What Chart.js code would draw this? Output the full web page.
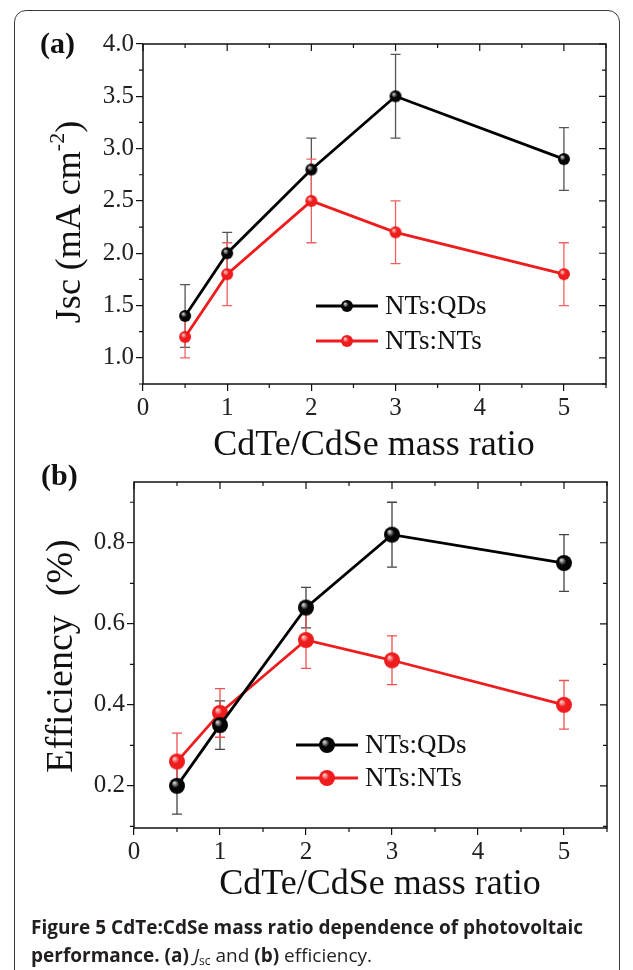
<!DOCTYPE html>
<html>
<head>
<meta charset="utf-8">
<script src="https://cdn.jsdelivr.net/npm/chart.js@4.4.1/dist/chart.umd.min.js"></script>
<style>
  body { margin: 0; background: #fff; width: 633px; height: 970px; overflow: hidden; position: relative; }
  #frame { position: absolute; left: 14px; top: 10px; width: 606px; height: 990px;
           border: 1.5px solid #3a3a3a; border-radius: 12px; box-sizing: border-box; }
  canvas { position: absolute; left: 0; }
  #c1 { top: 0; }
  #c2 { top: 440px; }
  #cap { position: absolute; left: 31px; top: 913px; font-family: "Open Sans"; font-size: 19px;
         line-height: 28px; color: #231f20; white-space: nowrap; }
  #cap b { font-weight: 700; }
  #cap sub { font-size: 12px; vertical-align: -3px; }
</style>
</head>
<body>
<div id="frame"></div>
<canvas id="c1" width="633" height="470"></canvas>
<canvas id="c2" width="633" height="470"></canvas>
<div id="cap"><b>Figure 5 CdTe:CdSe mass ratio dependence of photovoltaic</b><br><b>performance.</b> <b>(a)</b> <i>J</i><sub>sc</sub> and <b>(b)</b> efficiency.</div>
<script>
// CdTe/CdSe mass ratio
const massRatio = [0.5, 1, 2, 3, 5];

// (a) Jsc, mA cm-2
const jscQDs = [1.4, 2.0, 2.8, 3.5, 2.9];
const jscQDsErr = [0.3, 0.2, 0.3, 0.4, 0.3];
const jscNTs = [1.2, 1.8, 2.5, 2.2, 1.8];
const jscNTsErr = [0.2, 0.3, 0.4, 0.3, 0.3];

// (b) efficiency, %
const effQDs = [0.20, 0.35, 0.64, 0.82, 0.75];
const effQDsErr = [0.07, 0.06, 0.05, 0.08, 0.07];
const effNTs = [0.26, 0.38, 0.56, 0.51, 0.40];
const effNTsErr = [0.07, 0.06, 0.07, 0.06, 0.06];

// tick labels
const ratioTicks = [0, 1, 2, 3, 4, 5];
const jscTicks = [1.0, 1.5, 2.0, 2.5, 3.0, 3.5, 4.0];
const effTicks = [0.2, 0.4, 0.6, 0.8];

const SERIF = "'Liberation Serif', 'Times New Roman', serif";
const RED = '#ee1c1c';

function sphere(r, base, hi) {
  const c = document.createElement('canvas');
  c.width = c.height = 2 * r + 2;
  const g = c.getContext('2d');
  const m = r + 1;
  const grad = g.createRadialGradient(m - r * 0.35, m - r * 0.4, r * 0.05, m, m, r);
  grad.addColorStop(0, hi);
  grad.addColorStop(0.45, base);
  grad.addColorStop(1, base);
  g.fillStyle = grad;
  g.beginPath();
  g.arc(m, m, r, 0, Math.PI * 2);
  g.fill();
  return c;
}

const decor = {
  id: 'decor',
  beforeDatasetsDraw(chart, args, o) {
    const ctx = chart.ctx, xs = chart.scales.x, ys = chart.scales.y;
    o.errors.forEach((errs, di) => {
      ctx.save();
      ctx.strokeStyle = o.errColors[di];
      ctx.lineWidth = 1.3;
      chart.data.datasets[di].data.forEach((p, i) => {
        const px = xs.getPixelForValue(p.x);
        const yt = ys.getPixelForValue(p.y + errs[i]);
        const yb = ys.getPixelForValue(p.y - errs[i]);
        ctx.beginPath();
        ctx.moveTo(px, yt); ctx.lineTo(px, yb);
        ctx.moveTo(px - o.cap, yt); ctx.lineTo(px + o.cap, yt);
        ctx.moveTo(px - o.cap, yb); ctx.lineTo(px + o.cap, yb);
        ctx.stroke();
      });
      ctx.restore();
    });
  },
  afterDraw(chart, args, o) {
    const ctx = chart.ctx, a = chart.chartArea, xs = chart.scales.x, ys = chart.scales.y;
    ctx.save();
    ctx.strokeStyle = '#111';
    ctx.lineWidth = 1.5;
    ctx.strokeRect(a.left, a.top, a.right - a.left, a.bottom - a.top);

    // ticks: minor everywhere, major mirrored on top/right
    ctx.beginPath();
    for (let v = xs.min; v <= xs.max + 1e-9; v += o.xMinor) {
      const px = xs.getPixelForValue(v);
      const major = Math.abs(v - Math.round(v)) < 1e-6;
      const L = major ? 7 : 4;
      if (!major) { ctx.moveTo(px, a.bottom); ctx.lineTo(px, a.bottom + L); }
      ctx.moveTo(px, a.top); ctx.lineTo(px, a.top + L);
    }
    const y0 = Math.ceil(ys.min / o.yMinor - 1e-6) * o.yMinor;
    for (let v = y0; v <= ys.max + 1e-9; v += o.yMinor) {
      const py = ys.getPixelForValue(v);
      const major = o.yMajor.some(t => Math.abs(t - v) < 1e-6);
      const L = major ? 7 : 4;
      if (!major) { ctx.moveTo(a.left, py); ctx.lineTo(a.left - L, py); }
      ctx.moveTo(a.right, py); ctx.lineTo(a.right - L, py);
    }
    ctx.lineWidth = 1.2;
    ctx.stroke();

    // legend
    ctx.textBaseline = 'middle';
    ctx.font = `${o.legFont}px ${SERIF}`;
    chart.data.datasets.forEach((ds, i) => {
      const ly = o.legY[i];
      ctx.strokeStyle = ds.borderColor;
      ctx.lineWidth = ds.borderWidth;
      ctx.beginPath();
      ctx.moveTo(o.legX, ly); ctx.lineTo(o.legX + 62, ly);
      ctx.stroke();
      const img = ds.pointStyle;
      ctx.drawImage(img, o.legX + 31 - img.width / 2, ly - img.height / 2);
      ctx.fillStyle = '#111';
      ctx.textAlign = 'left';
      ctx.fillText(ds.label, o.legX + 69, ly + 1);
    });

    // x title
    ctx.fillStyle = '#111';
    ctx.textAlign = 'center';
    ctx.textBaseline = 'middle';
    ctx.font = `36px ${SERIF}`;
    ctx.fillText('CdTe/CdSe mass ratio', o.xTitle[0], o.xTitle[1]);

    // panel letter
    ctx.font = `bold 30px ${SERIF}`;
    ctx.textAlign = 'left';
    ctx.fillText(o.letter, o.letterPos[0], o.letterPos[1]);

    // y title (rotated, with optional superscript)
    ctx.translate(o.yTitle[0], o.yTitle[1]);
    ctx.rotate(-Math.PI / 2);
    ctx.textBaseline = 'alphabetic';
    const big = `${o.yFont}px ${SERIF}`, small = `${Math.round(o.yFont * 0.6)}px ${SERIF}`;
    const parts = o.yParts;
    let total = 0;
    parts.forEach(p => { ctx.font = p.sup ? small : big; total += ctx.measureText(p.t).width; });
    let cx = -total / 2;
    parts.forEach(p => {
      ctx.font = p.sup ? small : big;
      ctx.fillText(p.t, cx, p.sup ? -o.yFont * 0.45 : 0);
      cx += ctx.measureText(p.t).width;
    });
    ctx.restore();
  }
};

function panel(id, c) {
  return new Chart(document.getElementById(id), {
    type: 'line',
    data: {
      datasets: [
        { label: 'NTs:QDs', data: massRatio.map((x, i) => ({ x, y: c.qd[i] })),
          borderColor: '#000', borderWidth: 2.8, pointStyle: sphere(c.r, '#050505', '#d8d8d8'),
          pointRadius: c.r, tension: 0 },
        { label: 'NTs:NTs', data: massRatio.map((x, i) => ({ x, y: c.nt[i] })),
          borderColor: RED, borderWidth: 2.8, pointStyle: sphere(c.r, RED, '#ffd0d0'),
          pointRadius: c.r, tension: 0 }
      ]
    },
    options: {
      responsive: false,
      animation: false,
      events: [],
      layout: { padding: { top: c.padTop, right: c.padRight, left: 0, bottom: 0 } },
      plugins: {
        legend: { display: false },
        tooltip: { enabled: false },
        decor: c.decor
      },
      scales: {
        x: {
          type: 'linear', min: 0, max: 5.5,
          afterBuildTicks: s => { s.ticks = ratioTicks.map(v => ({ value: v })); },
          afterFit: s => { s.height = c.xh; },
          grid: { drawOnChartArea: false, tickLength: 7, color: '#111', lineWidth: 1.2 },
          border: { display: false },
          ticks: { font: { family: SERIF, size: 25 }, color: '#222', padding: 2, maxRotation: 0,
                   callback: v => String(v) }
        },
        y: {
          min: c.ymin, max: c.ymax,
          afterBuildTicks: s => { s.ticks = c.yTicks.map(v => ({ value: v })); },
          afterFit: s => { s.width = c.yw; },
          grid: { drawOnChartArea: false, tickLength: 7, color: '#111', lineWidth: 1.2 },
          border: { display: false },
          ticks: { font: { family: SERIF, size: 25 }, color: '#222', padding: 2,
                   callback: v => v.toFixed(1) }
        }
      }
    },
    plugins: [decor]
  });
}

panel('c1', {
  qd: jscQDs, nt: jscNTs, r: 6, ymin: 0.75, ymax: 4.0, yTicks: jscTicks,
  padTop: 44, padRight: 27, yw: 143, xh: 86,
  decor: {
    errors: [jscQDsErr, jscNTsErr], errColors: ['#555', '#f06060'], cap: 5,
    xMinor: 0.5, yMinor: 0.25, yMajor: jscTicks,
    legX: 316, legY: [306, 341], legFont: 27,
    xTitle: [374, 446], letter: '(a)', letterPos: [40, 45],
    yTitle: [80, 222], yFont: 36,
    yParts: [{ t: 'Jsc (mA cm' }, { t: '-2', sup: true }, { t: ')' }]
  }
});

panel('c2', {
  qd: effQDs, nt: effNTs, r: 8, ymin: 0.096, ymax: 0.95, yTicks: effTicks,
  padTop: 42, padRight: 26, yw: 134, xh: 82,
  decor: {
    errors: [effQDsErr, effNTsErr], errColors: ['#444', '#f05050'], cap: 5,
    xMinor: 0.5, yMinor: 0.1, yMajor: effTicks,
    legX: 296, legY: [305, 338], legFont: 27,
    xTitle: [380, 445], letter: '(b)', letterPos: [41, 37],
    yTitle: [72, 216], yFont: 38,
    yParts: [{ t: 'Efficiency  (%)' }]
  }
});
</script>
</body>
</html>
